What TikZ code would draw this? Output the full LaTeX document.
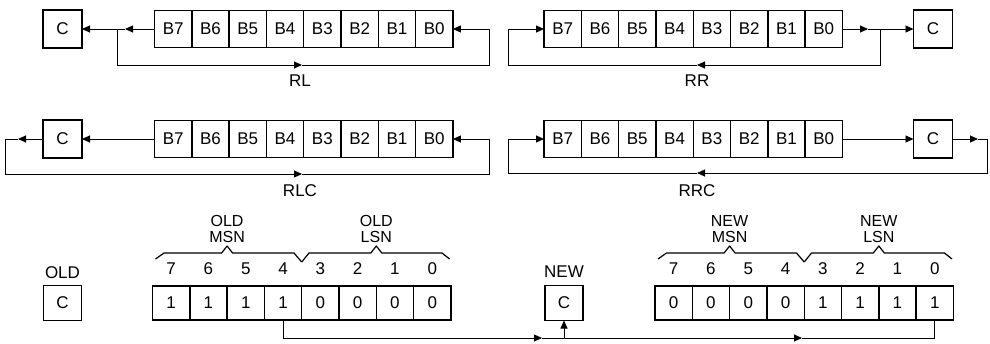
\documentclass[tikz,border=0pt]{standalone}
\usepackage{fontspec}
\setmainfont{Liberation Sans}
\usetikzlibrary{arrows.meta}
\begin{document}
\begin{tikzpicture}[x=1pt,y=-1pt,
  txt/.style={font=\fontsize{17}{15}\selectfont,inner sep=0pt},
  twoline/.style={font=\fontsize{16}{16.5}\selectfont,inner sep=0pt,align=center},
  cell/.style={draw,line width=1.4pt,minimum width=37.3pt,minimum height=37pt,inner sep=0pt,outer sep=0pt,font=\fontsize{17}{17}\selectfont},
  lowcell/.style={cell,minimum height=34pt},
  cbox/.style={cell,minimum width=39pt,minimum height=38pt},
  lowcbox/.style={cell,minimum width=38pt,minimum height=35pt},
  regbox/.style={draw,line width=1.8pt},
  conn/.style={line width=0.9pt},
  arr/.style={conn,-{Triangle[length=8pt,width=7pt]}},
  brace/.style={line width=1.2pt,line join=round}
]
\useasboundingbox (0,0) rectangle (990,343);

% ---------- RL ----------
\foreach \l [count=\i from 0] in {B7,B6,B5,B4,B3,B2,B1,B0}
  \node[cell] (a\i) at (154.5+37.3*\i+18.65,29) {\l};
\draw[regbox] (a0.north west) rectangle (a7.south east);
\node[cbox] (ca) at (62.5,29) {C};
\coordinate (aT) at (125,29);
\coordinate (aB) at (117,29);
\coordinate (aC) at (117,65);
\coordinate (aM) at (302,65);
\coordinate (aD) at (489,65);
\coordinate (aE) at (489,29);
\draw[arr] (a0.west) -- (aT);
\draw[arr] (aT) -- (ca.east);
\draw[arr] (aB) -- (aC) -- (aM);
\draw[arr] (aM) -- (aD) -- (aE) -- (a7.east);
\node[txt] (la) at (300,81) {RL};

% ---------- RR ----------
\foreach \l [count=\i from 0] in {B7,B6,B5,B4,B3,B2,B1,B0}
  \node[cell] (b\i) at (544+37.3*\i+18.65,29) {\l};
\draw[regbox] (b0.north west) rectangle (b7.south east);
\node[cbox] (cb) at (933,29) {C};
\coordinate (bT) at (868,29);
\coordinate (bB) at (880,29);
\coordinate (bC) at (880,65);
\coordinate (bM) at (697,65);
\coordinate (bD) at (508,65);
\coordinate (bE) at (508,29);
\draw[arr] (b7.east) -- (bT);
\draw[arr] (bT) -- (cb.west);
\draw[arr] (bB) -- (bC) -- (bM);
\draw[arr] (bM) -- (bD) -- (bE) -- (b0.west);
\node[txt] (lb) at (697,81) {RR};

% ---------- RLC ----------
\foreach \l [count=\i from 0] in {B7,B6,B5,B4,B3,B2,B1,B0}
  \node[cell] (c\i) at (154.5+37.3*\i+18.65,139) {\l};
\draw[regbox] (c0.north west) rectangle (c7.south east);
\node[cbox] (cc) at (62.5,139) {C};
\coordinate (cT) at (18,139);
\coordinate (cB) at (5,139);
\coordinate (cC) at (5,174);
\coordinate (cM) at (302,174);
\coordinate (cD) at (489,174);
\coordinate (cE) at (489,139);
\draw[arr] (c0.west) -- (cc.east);
\draw[arr] (cc.west) -- (cT);
\draw[arr] (cT) -- (cB) -- (cC) -- (cM);
\draw[arr] (cM) -- (cD) -- (cE) -- (c7.east);
\node[txt] (lc) at (300,191) {RLC};

% ---------- RRC ----------
\foreach \l [count=\i from 0] in {B7,B6,B5,B4,B3,B2,B1,B0}
  \node[cell] (d\i) at (544+37.3*\i+18.65,139) {\l};
\draw[regbox] (d0.north west) rectangle (d7.south east);
\node[cbox] (cd) at (933,139) {C};
\coordinate (dT) at (978,139);
\coordinate (dB) at (987,139);
\coordinate (dC) at (987,173);
\coordinate (dM) at (697,173);
\coordinate (dD) at (508,173);
\coordinate (dE) at (508,139);
\draw[arr] (d7.east) -- (cd.west);
\draw[arr] (cd.east) -- (dT);
\draw[arr] (dT) -- (dB) -- (dC) -- (dM);
\draw[arr] (dM) -- (dD) -- (dE) -- (d0.west);
\node[txt] (ld) at (697,191) {RRC};

% ---------- OLD ----------
\node[txt] (oldl) at (62.5,273) {OLD};
\node[lowcbox] (oc) at (62.5,303) {C};
\foreach \v [count=\i from 0] in {1,1,1,1,0,0,0,0}{
  \node[lowcell] (o\i) at (152.5+37.3*\i+18.65,303) {\v};
  \pgfmathtruncatemacro{\bit}{7-\i}
  \node[txt] (on\i) at (152.5+37.3*\i+18.65,269) {\bit};
}
\draw[regbox] (o0.north west) rectangle (o7.south east);
\draw[brace] (155.5,259) -- (164,253) -- (221.6,253) -- (227.1,246) -- (232.6,253) -- (294,253) -- (301.7,262);
\draw[brace] (301.7,262) -- (309,253) -- (370.8,253) -- (376.3,246) -- (381.8,253) -- (442,253) -- (449.5,259);
\node[twoline] (omsn) at (227.1,229) {OLD\\MSN};
\node[twoline] (olsn) at (376.3,229) {OLD\\LSN};

% ---------- NEW ----------
\node[txt] (newl) at (564,272) {NEW};
\node[lowcbox] (nc) at (564,303) {C};
\foreach \v [count=\i from 0] in {0,0,0,0,1,1,1,1}{
  \node[lowcell] (n\i) at (655+37.3*\i+18.65,303) {\v};
  \pgfmathtruncatemacro{\bit}{7-\i}
  \node[txt] (nn\i) at (655+37.3*\i+18.65,269) {\bit};
}
\draw[regbox] (n0.north west) rectangle (n7.south east);
\draw[brace] (658,259) -- (666.5,253) -- (724.1,253) -- (729.6,246) -- (735.1,253) -- (796.5,253) -- (804.2,262);
\draw[brace] (804.2,262) -- (811.5,253) -- (873.3,253) -- (878.8,246) -- (884.3,253) -- (944.5,253) -- (952,259);
\node[twoline] (nmsn) at (729.6,229) {NEW\\MSN};
\node[twoline] (nlsn) at (878.8,229) {NEW\\LSN};

% ---------- bottom connectors ----------
\coordinate (e1) at (o3.south |- 0,338);
\coordinate (eT) at (542,338);
\coordinate (eJ) at (nc.south |- 0,338);
\coordinate (eM) at (802,338);
\coordinate (e2) at (n7.south |- 0,338);
\draw[arr] (o3.south) -- (e1) -- (eT);
\draw[conn] (eT) -- (eJ);
\draw[arr] (eJ) -- (nc.south);
\draw[arr] (eJ) -- (eM);
\draw[conn] (eM) -- (e2) -- (n7.south);
\end{tikzpicture}
\end{document}
